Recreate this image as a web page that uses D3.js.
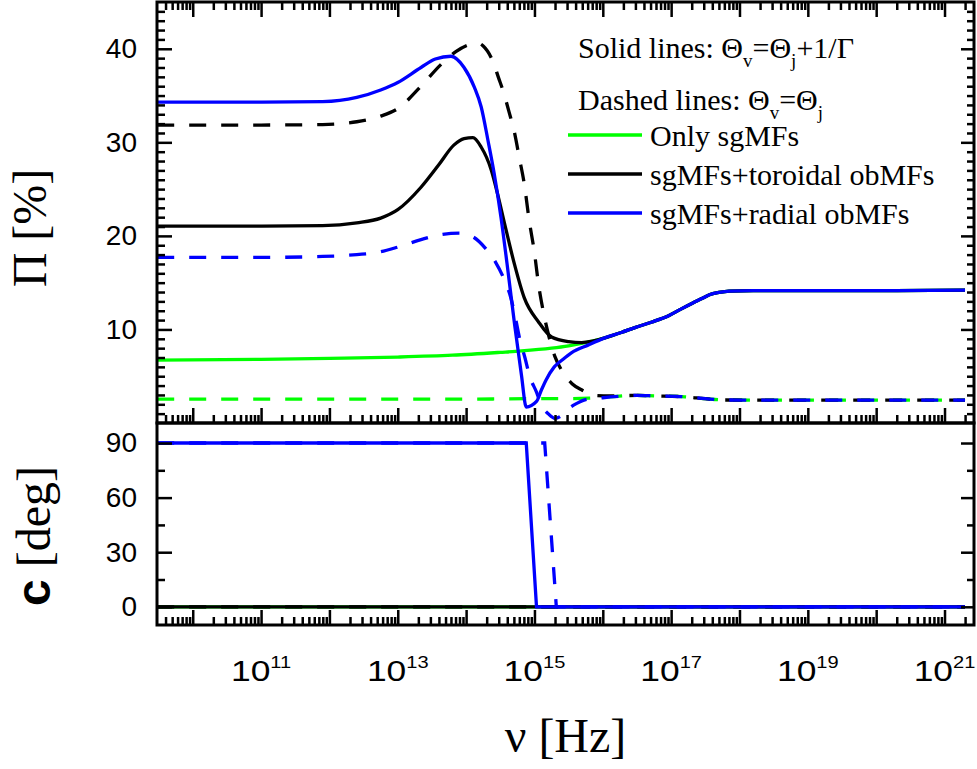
<!DOCTYPE html>
<html><head><meta charset="utf-8">
<script src="https://cdn.jsdelivr.net/npm/d3@7"></script>
<style>body{margin:0;background:#fff}svg{display:block}</style>
</head><body>
<svg id="chart" width="977" height="769"></svg>
<script>
// ---------------- DATA (log10 of frequency) ----------------
const xTickExponents = [11, 13, 15, 17, 19, 21];
const piTicks = [10, 20, 30, 40];
const cTicks = [0, 30, 60, 90];

// Top panel: polarization degree Π [%]
// Solid lines: Θv = Θj + 1/Γ
const greenSolidLogNu = [9.48, 11.0, 12.0, 13.0, 13.8, 14.5, 14.81, 15.25, 15.5, 15.69, 15.85, 16.03, 16.28, 16.47, 16.72, 16.97, 17.15, 17.31, 17.45, 17.56, 17.7, 17.85, 18.2, 19.0, 20.0, 21.3];
const greenSolidPi    = [6.72, 6.8, 6.9, 7.05, 7.25, 7.55, 7.7, 8.0, 8.25, 8.5, 8.75, 9.1, 9.7, 10.2, 10.8, 11.5, 12.2, 12.8, 13.3, 13.7, 13.95, 14.1, 14.15, 14.15, 14.15, 14.2];

const blackSolidLogNu = [9.48, 11.0, 11.9, 12.4, 12.75, 13.0, 13.34, 13.6, 13.82, 13.97, 14.1, 14.22, 14.37, 14.47, 14.56, 14.71, 14.85, 15.06, 15.25, 15.5, 15.69, 15.85, 16.03, 16.28, 16.47, 16.72, 16.97, 17.15, 17.31, 17.45, 17.56, 17.7, 17.85, 18.2, 19.0, 20.0, 21.3];
const blackSolidPi    = [21.05, 21.05, 21.1, 21.4, 21.9, 22.8, 25.2, 27.6, 29.7, 30.4, 30.5, 29.5, 27.0, 24.2, 21.4, 16.9, 13.4, 10.8, 9.2, 8.7, 8.6, 8.75, 9.1, 9.7, 10.2, 10.8, 11.5, 12.2, 12.8, 13.3, 13.7, 13.95, 14.1, 14.15, 14.15, 14.15, 14.2];

const blueSolidLogNu = [9.48, 11.0, 11.9, 12.4, 12.75, 13.0, 13.34, 13.55, 13.78, 13.97, 14.12, 14.22, 14.32, 14.41, 14.51, 14.62, 14.71, 14.81, 14.88, 15.03, 15.1, 15.17, 15.29, 15.4, 15.54, 15.79, 16.03, 16.28, 16.47, 16.72, 16.97, 17.15, 17.31, 17.45, 17.56, 17.7, 17.85, 18.2, 19.0, 20.0, 21.3];
const blueSolidPi    = [34.3, 34.3, 34.35, 34.8, 35.6, 36.4, 38.0, 38.9, 39.2, 38.0, 35.9, 33.8, 30.2, 26.7, 22.0, 15.8, 10.5, 5.1, 1.7, 2.3, 3.5, 4.6, 6.0, 6.7, 7.5, 8.35, 9.1, 9.7, 10.2, 10.8, 11.5, 12.2, 12.8, 13.3, 13.7, 13.95, 14.1, 14.15, 14.15, 14.15, 14.2];

// Dashed lines: Θv = Θj
const greenDashedLogNu = [9.48, 12.0, 14.0, 15.0, 15.5, 15.8, 16.1, 16.5, 16.75, 17.2, 17.5, 17.8, 18.5, 19.5, 20.5, 21.3];
const greenDashedPi    = [2.55, 2.55, 2.55, 2.6, 2.6, 2.65, 2.8, 2.95, 2.9, 2.8, 2.6, 2.46, 2.45, 2.45, 2.45, 2.45];

const blackDashedLogNu = [9.48, 11.0, 11.9, 12.4, 12.75, 13.0, 13.34, 13.63, 13.85, 14.07, 14.18, 14.25, 14.4, 14.47, 14.55, 14.63, 14.7, 14.78, 14.85, 14.92, 15.0, 15.06, 15.13, 15.21, 15.3, 15.4, 15.55, 15.7, 15.88, 16.1, 16.5, 16.75, 17.2, 17.5, 17.8, 18.5, 19.5, 20.5, 21.3];
const blackDashedPi    = [31.85, 31.85, 31.9, 32.2, 32.8, 33.6, 36.0, 38.3, 39.7, 40.5, 40.6, 40.3, 38.5, 37.0, 35.3, 33.2, 31.3, 28.3, 25.6, 21.8, 18.2, 14.8, 11.9, 9.3, 7.1, 5.6, 4.2, 3.5, 2.95, 2.9, 2.95, 2.9, 2.8, 2.6, 2.46, 2.45, 2.45, 2.45, 2.45];

const blueDashedLogNu = [9.48, 11.0, 11.9, 12.4, 12.75, 13.0, 13.34, 13.6, 13.9, 14.1, 14.28, 14.43, 14.56, 14.65, 14.72, 14.79, 14.86, 14.93, 15.03, 15.1, 15.2, 15.3, 15.4, 15.51, 15.62, 15.75, 16.0, 16.25, 16.5, 16.75, 17.2, 17.5, 17.8, 18.5, 19.5, 20.5, 21.3];
const blueDashedPi    = [17.7, 17.7, 17.8, 18.0, 18.3, 18.8, 19.6, 20.1, 20.3, 19.9, 18.7, 17.2, 15.3, 13.5, 11.3, 8.8, 7.0, 5.0, 3.3, 1.9, 1.0, 0.5, 0.8, 1.6, 2.1, 2.5, 2.7, 2.85, 2.95, 2.9, 2.8, 2.6, 2.46, 2.45, 2.45, 2.45, 2.45];

// Bottom panel: polarization angle c [deg]
const greenSolidCLogNu = [9.48, 21.3];         const greenSolidC = [0, 0];
const greenDashedCLogNu = [9.48, 21.3];        const greenDashedC = [0, 0];
const blackSolidCLogNu = [9.48, 21.3];         const blackSolidC = [0, 0];
const blackDashedCLogNu = [9.48, 21.3];        const blackDashedC = [0, 0];
const blueSolidCLogNu = [9.48, 14.88, 15.03, 21.3];  const blueSolidC = [90, 90, 0, 0];
const blueDashedCLogNu = [9.48, 15.15, 15.32, 21.3]; const blueDashedC = [90, 90, 0, 0];

const legendLabels = ["Only sgMFs", "sgMFs+toroidal obMFs", "sgMFs+radial obMFs"];
const seriesColors = ["#00ff00", "#000000", "#0000ff"];

// ---------------- LAYOUT ----------------
const L = 157, R = 974, T = 2, MID = 423, B = 625;
const svg = d3.select("#chart");
const x = d3.scaleLog().domain([3e9, 2.7e21]).range([L, R]);
const yPi = d3.scaleLinear().domain([0, 45]).range([MID, T]);
const yC = d3.scaleLinear().domain([-10, 101]).range([B, MID]);

const sans = "'Liberation Sans', Arial, sans-serif";
const serif = "'Liberation Serif', 'Times New Roman', serif";

svg.append("defs").call(d => {
  d.append("clipPath").attr("id", "clipTop").append("rect").attr("x", L).attr("y", T).attr("width", R - L).attr("height", MID - T);
  d.append("clipPath").attr("id", "clipBot").append("rect").attr("x", L).attr("y", MID).attr("width", R - L).attr("height", B - MID);
});

// ---------------- DATA LINES ----------------
function zip(a, b) { return a.map((v, i) => [Math.pow(10, v), b[i]]); }
const lineTop = d3.line().x(d => x(d[0])).y(d => yPi(d[1])).curve(d3.curveMonotoneX);
const lineBot = d3.line().x(d => x(d[0])).y(d => yC(d[1]));

const DASH = "17,15";
const LW = 3.3;
const topSeries = [
  [greenDashedLogNu, greenDashedPi, seriesColors[0], DASH],
  [blackDashedLogNu, blackDashedPi, seriesColors[1], DASH],
  [blueDashedLogNu, blueDashedPi, seriesColors[2], DASH],
  [greenSolidLogNu, greenSolidPi, seriesColors[0], null],
  [blackSolidLogNu, blackSolidPi, seriesColors[1], null],
  [blueSolidLogNu, blueSolidPi, seriesColors[2], null]
];
const gTop = svg.append("g").attr("clip-path", "url(#clipTop)");
topSeries.forEach(s => {
  gTop.append("path").attr("d", lineTop(zip(s[0], s[1])))
    .attr("fill", "none").attr("stroke", s[2]).attr("stroke-width", LW)
    .attr("stroke-dasharray", s[3]);
});

const botSeries = [
  [greenSolidCLogNu, greenSolidC, seriesColors[0], null],
  [greenDashedCLogNu, greenDashedC, seriesColors[0], DASH],
  [blackSolidCLogNu, blackSolidC, seriesColors[1], null],
  [blackDashedCLogNu, blackDashedC, seriesColors[1], DASH],
  [blueDashedCLogNu, blueDashedC, seriesColors[2], DASH],
  [blueSolidCLogNu, blueSolidC, seriesColors[2], null]
];
const gBot = svg.append("g").attr("clip-path", "url(#clipBot)");
botSeries.forEach(s => {
  gBot.append("path").attr("d", lineBot(zip(s[0], s[1])))
    .attr("fill", "none").attr("stroke", s[2]).attr("stroke-width", LW)
    .attr("stroke-dasharray", s[3]);
});

// ---------------- AXES ----------------
const majorX = d3.range(10, 22).map(e => Math.pow(10, e));
const minorX = [];
d3.range(9, 22).forEach(e => d3.range(2, 10).forEach(m => {
  const v = m * Math.pow(10, e);
  if (v > x.domain()[0] && v < x.domain()[1]) minorX.push(v);
}));
const piMinor = d3.range(1, 45).filter(v => v % 10 !== 0);
const cMinor = [15, 45, 75];

function styleAxis(g) {
  g.select(".domain").remove();
  g.selectAll(".tick line").attr("stroke", "#000").attr("stroke-width", 2.5);
  g.selectAll(".tick text").attr("font-family", sans).attr("font-size", 28).attr("fill", "#000");
}
function addAxis(axis, tx, ty) {
  svg.append("g").attr("transform", `translate(${tx},${ty})`).call(axis).call(styleAxis);
}
// x ticks (top of top panel, bottom of top panel, bottom of bottom panel)
addAxis(d3.axisTop(x).tickValues(majorX).tickSize(-15).tickFormat(""), 0, T);
addAxis(d3.axisTop(x).tickValues(minorX).tickSize(-8).tickFormat(""), 0, T);
addAxis(d3.axisBottom(x).tickValues(majorX).tickSize(-15).tickFormat(""), 0, MID);
addAxis(d3.axisBottom(x).tickValues(minorX).tickSize(-8).tickFormat(""), 0, MID);
addAxis(d3.axisBottom(x).tickValues(majorX).tickSize(-15).tickFormat(""), 0, B);
addAxis(d3.axisBottom(x).tickValues(minorX).tickSize(-8).tickFormat(""), 0, B);
// y ticks top panel
addAxis(d3.axisLeft(yPi).tickValues(piTicks).tickSize(-15).tickPadding(20), L, 0);
addAxis(d3.axisLeft(yPi).tickValues(piMinor).tickSize(-8).tickFormat(""), L, 0);
addAxis(d3.axisRight(yPi).tickValues(piTicks).tickSize(-13).tickFormat(""), R, 0);
addAxis(d3.axisRight(yPi).tickValues(piMinor).tickSize(-7).tickFormat(""), R, 0);
// y ticks bottom panel
addAxis(d3.axisLeft(yC).tickValues(cTicks).tickSize(-15).tickPadding(20), L, 0);
addAxis(d3.axisLeft(yC).tickValues(cMinor).tickSize(-8).tickFormat(""), L, 0);
addAxis(d3.axisRight(yC).tickValues(cTicks).tickSize(-13).tickFormat(""), R, 0);
addAxis(d3.axisRight(yC).tickValues(cMinor).tickSize(-7).tickFormat(""), R, 0);

// frames
svg.append("rect").attr("x", L).attr("y", T).attr("width", R - L).attr("height", MID - T)
  .attr("fill", "none").attr("stroke", "#000").attr("stroke-width", 3);
svg.append("rect").attr("x", L).attr("y", MID).attr("width", R - L).attr("height", B - MID)
  .attr("fill", "none").attr("stroke", "#000").attr("stroke-width", 3);

// x tick labels 10^n
const xl = svg.append("g").selectAll("text").data(xTickExponents).join("text")
  .attr("transform", e => `translate(${x(Math.pow(10, e))},681) scale(1.18,1)`)
  .attr("text-anchor", "middle").attr("font-family", sans).attr("font-size", 30).attr("fill", "#000");
xl.append("tspan").text("10");
xl.append("tspan").attr("dy", -13).attr("font-size", 17).text(e => e);

// axis titles
svg.append("text").attr("transform", "translate(46,228) rotate(-90)").attr("text-anchor", "middle")
  .attr("font-family", serif).attr("font-size", 48).text("Π [%]");
const ct = svg.append("text").attr("transform", "translate(50,536) rotate(-90)").attr("text-anchor", "middle")
  .attr("font-size", 48);
ct.append("tspan").attr("font-family", sans).attr("font-weight", "bold").text("c");
ct.append("tspan").attr("font-family", serif).text(" [deg]");
svg.append("text").attr("x", (L + R) / 2).attr("y", 752).attr("text-anchor", "middle")
  .attr("font-family", serif).attr("font-size", 48).text("ν [Hz]");

// legend header lines
function thetaLine(y, parts) {
  const t = svg.append("text").attr("x", 578).attr("y", y).attr("font-family", serif).attr("font-size", 30);
  parts.forEach(p => {
    if (p.sub) t.append("tspan").attr("font-size", 19).attr("dy", 9).text(p.sub);
    else t.append("tspan").attr("dy", p.back ? -9 : 0).text(p.t);
  });
}
thetaLine(58, [{t: "Solid lines: Θ"}, {sub: "v"}, {t: "=Θ", back: true}, {sub: "j"}, {t: "+1/Γ", back: true}]);
thetaLine(110, [{t: "Dashed lines: Θ"}, {sub: "v"}, {t: "=Θ", back: true}, {sub: "j"}]);

// legend entries
const legendY = [135, 174, 213];
legendLabels.forEach((lab, i) => {
  svg.append("line").attr("x1", 568).attr("x2", 642).attr("y1", legendY[i]).attr("y2", legendY[i])
    .attr("stroke", seriesColors[i]).attr("stroke-width", LW);
  svg.append("text").attr("x", 650).attr("y", legendY[i] + 11).attr("font-family", serif)
    .attr("font-size", 30).attr("fill", "#000").text(lab);
});
</script>
</body></html>
